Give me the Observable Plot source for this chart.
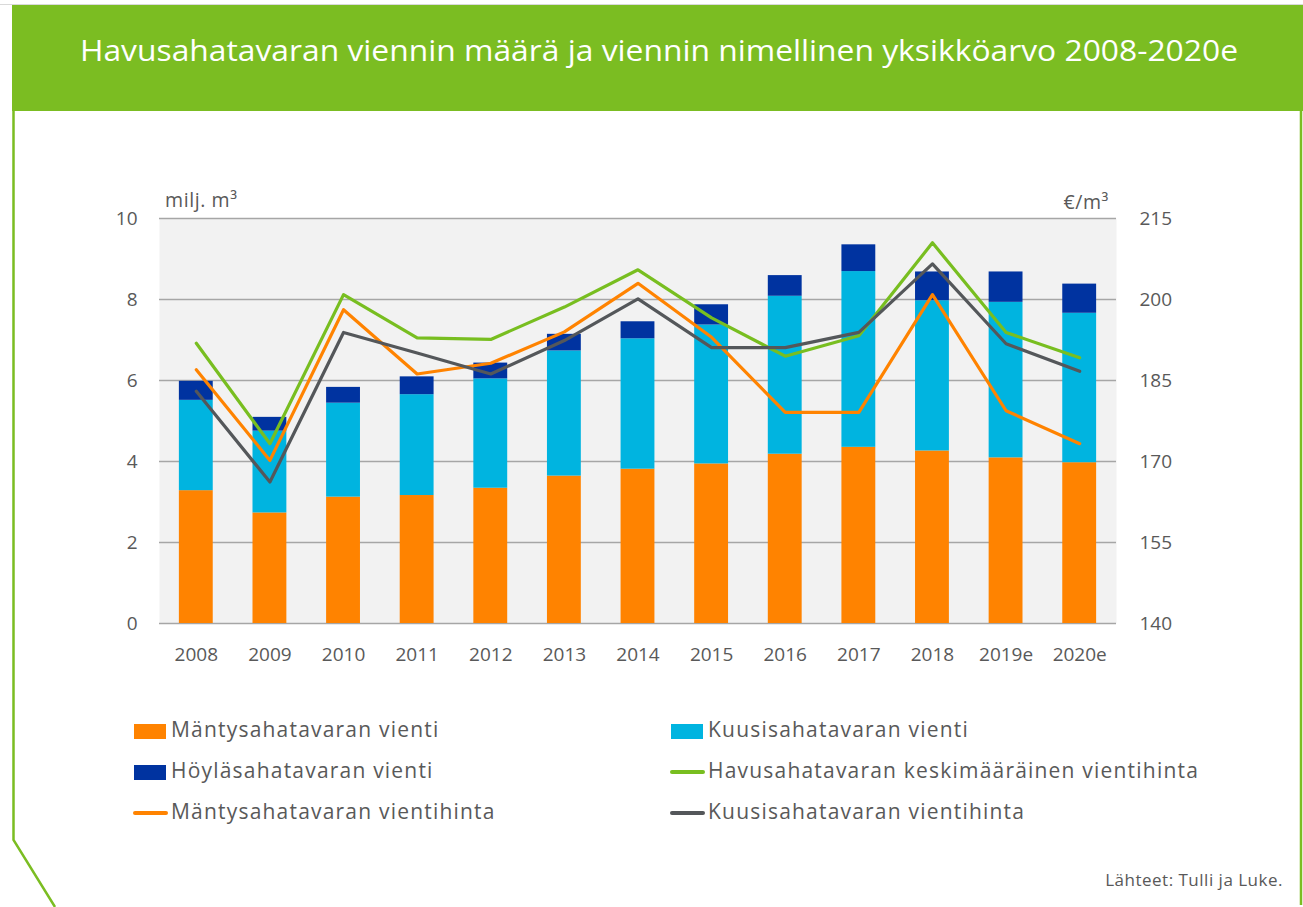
<!DOCTYPE html>
<html>
<head>
<meta charset="utf-8">
<script src="https://cdn.jsdelivr.net/npm/d3@7"></script>
<script src="https://cdn.jsdelivr.net/npm/@observablehq/plot@0.6"></script>
<style>
  html, body { margin: 0; padding: 0; background: #fff; }
  body { width: 1303px; height: 907px; position: relative; overflow: hidden; font-family: "Open Sans", sans-serif; color: #595959; }
  #deco { position: absolute; left: 0; top: 0; }
  #chart { position: absolute; left: 0; top: 0; }
  .lbl { position: absolute; white-space: nowrap; font-size: 19.5px; color: #595959; letter-spacing: 0.6px; }
  .leg { position: absolute; white-space: nowrap; font-size: 21px; letter-spacing: 1.2px; color: #595959; line-height: 1; }
  .sw { position: absolute; }
</style>
</head>
<body>
<svg id="deco" width="1303" height="907">
  <line x1="0" y1="4.5" x2="1303" y2="4.5" stroke="#d9d9d9" stroke-width="1"/>
  <rect x="12" y="5" width="1291" height="106" fill="#7BBD22"/>
  <text x="659" y="61" text-anchor="middle" fill="#fff" font-family="Open Sans" font-size="30" textLength="1158" lengthAdjust="spacingAndGlyphs">Havusahatavaran viennin määrä ja viennin nimellinen yksikköarvo 2008-2020e</text>
  <polyline points="13.5,111 13.5,840 55,907" fill="none" stroke="#7BBD22" stroke-width="2.5"/>
  <line x1="1301" y1="111" x2="1301" y2="905" stroke="#7BBD22" stroke-width="2.5"/>
</svg>
<div id="chart"></div>
<div class="lbl" style="left:165px; top:186px;">milj. m³</div>
<div class="lbl" style="right:194px; top:188px;">€/m³</div>
<div id="legend"></div>
<div class="lbl" style="right:20px; top:868px; font-size:17px; letter-spacing:0.5px;">Lähteet: Tulli ja Luke.</div>
<script>
const years = ["2008","2009","2010","2011","2012","2013","2014","2015","2016","2017","2018","2019e","2020e"];
// million m3
const mantyVienti = [3.28,2.73,3.12,3.16,3.34,3.64,3.81,3.94,4.18,4.35,4.26,4.09,3.97];
const kuusiVienti = [2.23,2.02,2.32,2.49,2.70,3.09,3.22,3.43,3.90,4.34,3.71,3.84,3.69];
const hoylaVienti = [0.47,0.34,0.39,0.44,0.39,0.41,0.42,0.50,0.51,0.66,0.71,0.75,0.72];
// €/m3
const keskiHinta = [191.9,173.3,200.9,192.9,192.6,198.6,205.5,196.6,189.5,193.3,210.5,193.9,189.2];
const mantyHinta = [187.0,170.2,198.1,186.2,188.2,194.0,203.0,193.0,179.1,179.1,200.9,179.4,173.3];
const kuusiHinta = [183.0,166.2,193.9,190.1,186.2,192.4,200.1,191.1,191.1,193.9,206.6,191.8,186.7];

const leftTicks = [0,2,4,6,8,10];
const rightTicks = [140,155,170,185,200,215];

const barSeries = ["Mäntysahatavaran vienti","Kuusisahatavaran vienti","Höyläsahatavaran vienti"];
const barColors = ["#FF8300","#00B4E0","#0033A0"];
const lineSeries = ["Havusahatavaran keskimääräinen vientihinta","Mäntysahatavaran vientihinta","Kuusisahatavaran vientihinta"];
const lineColors = ["#78BE20","#FF8300","#54575A"];

const barData = [];
[mantyVienti, kuusiVienti, hoylaVienti].forEach((arr, s) => arr.forEach((v, i) => barData.push({year: years[i], series: barSeries[s], value: v})));

// secondary axis mapping: 140..215 €/m3 -> 0..10
const rMin = rightTicks[0], rMax = rightTicks[rightTicks.length - 1];
const toLeft = p => (p - rMin) / (rMax - rMin) * 10;
const lineData = [];
[keskiHinta, mantyHinta, kuusiHinta].forEach((arr, s) => arr.forEach((v, i) => lineData.push({year: years[i], series: lineSeries[s], price: v})));

const chart = Plot.plot({
  width: 1303,
  height: 680,
  marginLeft: 159,
  marginRight: 187,
  marginTop: 218,
  marginBottom: 57,
  style: {fontFamily: "Open Sans", fontSize: "19px", color: "#595959", background: "transparent"},
  x: {domain: years, paddingInner: 0.54, paddingOuter: 0.27, round: false, label: null},
  y: {domain: [0, 10], label: null},
  color: {domain: [...barSeries, ...lineSeries], range: [...barColors, ...lineColors]},
  marks: [
    Plot.frame({fill: "#F2F2F2", stroke: null}),
    Plot.ruleY(leftTicks, {stroke: "#A6A6A6", strokeWidth: 1.5}),
    Plot.barY(barData, {x: "year", y: "value", fill: "series", order: null}),
    ...lineSeries.map((s, k) => Plot.line(lineData.filter(d => d.series === s), {x: "year", y: d => toLeft(d.price), stroke: lineColors[k], strokeWidth: 3.2})),
    Plot.axisX({tickSize: 0, tickPadding: 24, fontSize: 19}),
    Plot.axisY({anchor: "left", ticks: leftTicks, tickSize: 0, tickPadding: 22, fontSize: 19}),
    Plot.axisY({anchor: "right", ticks: leftTicks, tickFormat: d => String(rMin + d / 10 * (rMax - rMin)), tickSize: 0, tickPadding: 23, fontSize: 19})
  ]
});
document.getElementById("chart").appendChild(chart);

// legend
const legend = document.getElementById("legend");
const items = [
  {label: barSeries[0], color: barColors[0], type: "box", x: 134, y: 731},
  {label: barSeries[1], color: barColors[1], type: "box", x: 671, y: 731},
  {label: barSeries[2], color: barColors[2], type: "box", x: 134, y: 772},
  {label: lineSeries[0], color: lineColors[0], type: "line", x: 671, y: 772},
  {label: lineSeries[1], color: lineColors[1], type: "line", x: 134, y: 813},
  {label: lineSeries[2], color: lineColors[2], type: "line", x: 671, y: 813}
];
items.forEach(it => {
  const sw = document.createElement("div");
  sw.className = "sw";
  if (it.type === "box") {
    Object.assign(sw.style, {left: it.x + "px", top: (it.y - 7.5) + "px", width: "32px", height: "15px", background: it.color});
  } else {
    Object.assign(sw.style, {left: (it.x - 1) + "px", top: (it.y - 1.75) + "px", width: "35px", height: "3.5px", background: it.color, borderRadius: "2px"});
  }
  legend.appendChild(sw);
  const t = document.createElement("div");
  t.className = "leg";
  t.textContent = it.label;
  Object.assign(t.style, {left: (it.x + 37) + "px", top: (it.y - 12) + "px"});
  legend.appendChild(t);
});
</script>
</body>
</html>
